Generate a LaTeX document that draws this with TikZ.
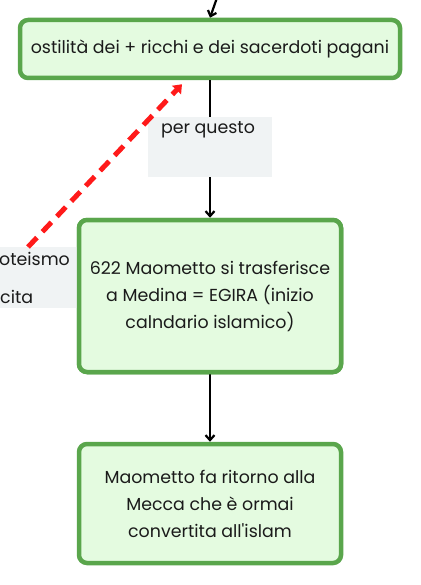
\documentclass[tikz,border=0pt]{standalone}
\usepackage{fontspec}
\setmainfont{Poppins}
\usetikzlibrary{arrows.meta,positioning,calc}
\definecolor{MapGreen}{HTML}{5AA64C}
\definecolor{MapLightGreen}{HTML}{E4FBE0}
\definecolor{MapGray}{HTML}{F0F3F4}
\definecolor{MapRed}{HTML}{FF1A1A}
\definecolor{MapText}{HTML}{1A1A1A}
\tikzset{
  greenbox/.style={draw=MapGreen, line width=4.5pt, rounded corners=8pt, align=center, fill=MapLightGreen, text=MapText, font=\fontsize{17.4}{27}\selectfont},
  graybox/.style={fill=MapGray, inner sep=0pt},
  labeltext/.style={inner sep=0pt, text=MapText, font=\fontsize{17.4}{20}\selectfont},
  arr/.style={-{Straight Barb[length=5pt,width=9pt]}, line width=2.2pt},
  darr/.style={-{Triangle[length=8pt,width=12pt]}, line width=5pt, dash pattern=on 13pt off 8pt, draw=MapRed}
}
\begin{document}
\begin{tikzpicture}[x=1pt,y=-1pt]
\useasboundingbox (0,0) rectangle (420,585);
\clip (0,0) rectangle (420,585);
\node[greenbox, minimum width=380pt, minimum height=58pt] (hostile) at (210,49) {ostilità dei + ricchi e dei sacerdoti pagani};
\node[greenbox, minimum width=262pt, minimum height=152pt] (egira) at (210,296) {622 Maometto si trasferisce\\a Medina = EGIRA (inizio\\calndario islamico)};
\node[greenbox, minimum width=262pt, minimum height=119pt] (ritorno) at (210,503.5) {Maometto fa ritorno alla\\Mecca che è ormai\\convertita all\textquotesingle islam};
\coordinate (above) at (219,-8);
\draw[arr] (above) -- (hostile.north);
\draw[arr] (hostile) -- (egira);
\draw[arr] (egira) -- (ritorno);
% etichette
\node[graybox, minimum width=124pt, minimum height=60pt] (perq) at (210,147) {};
\node[labeltext, anchor=base] (perqtxt) at (208,134) {per questo};
\node[graybox, minimum width=90pt, minimum height=61pt, anchor=north west] (monot) at (-8,247) {};
\node[labeltext, anchor=base west] (monotxt) at (-1,265) {oteismo};
\node[labeltext, anchor=base west] (citatxt) at (0,303) {cita};
\draw[darr] ([xshift=36pt]monot.north west) -- ([xshift=-28pt,yshift=-4pt]hostile.south);
% box sopra l'etichetta
\node[greenbox, minimum width=262pt, minimum height=152pt] at (egira) {622 Maometto si trasferisce\\a Medina = EGIRA (inizio\\calndario islamico)};
\end{tikzpicture}
\end{document}
